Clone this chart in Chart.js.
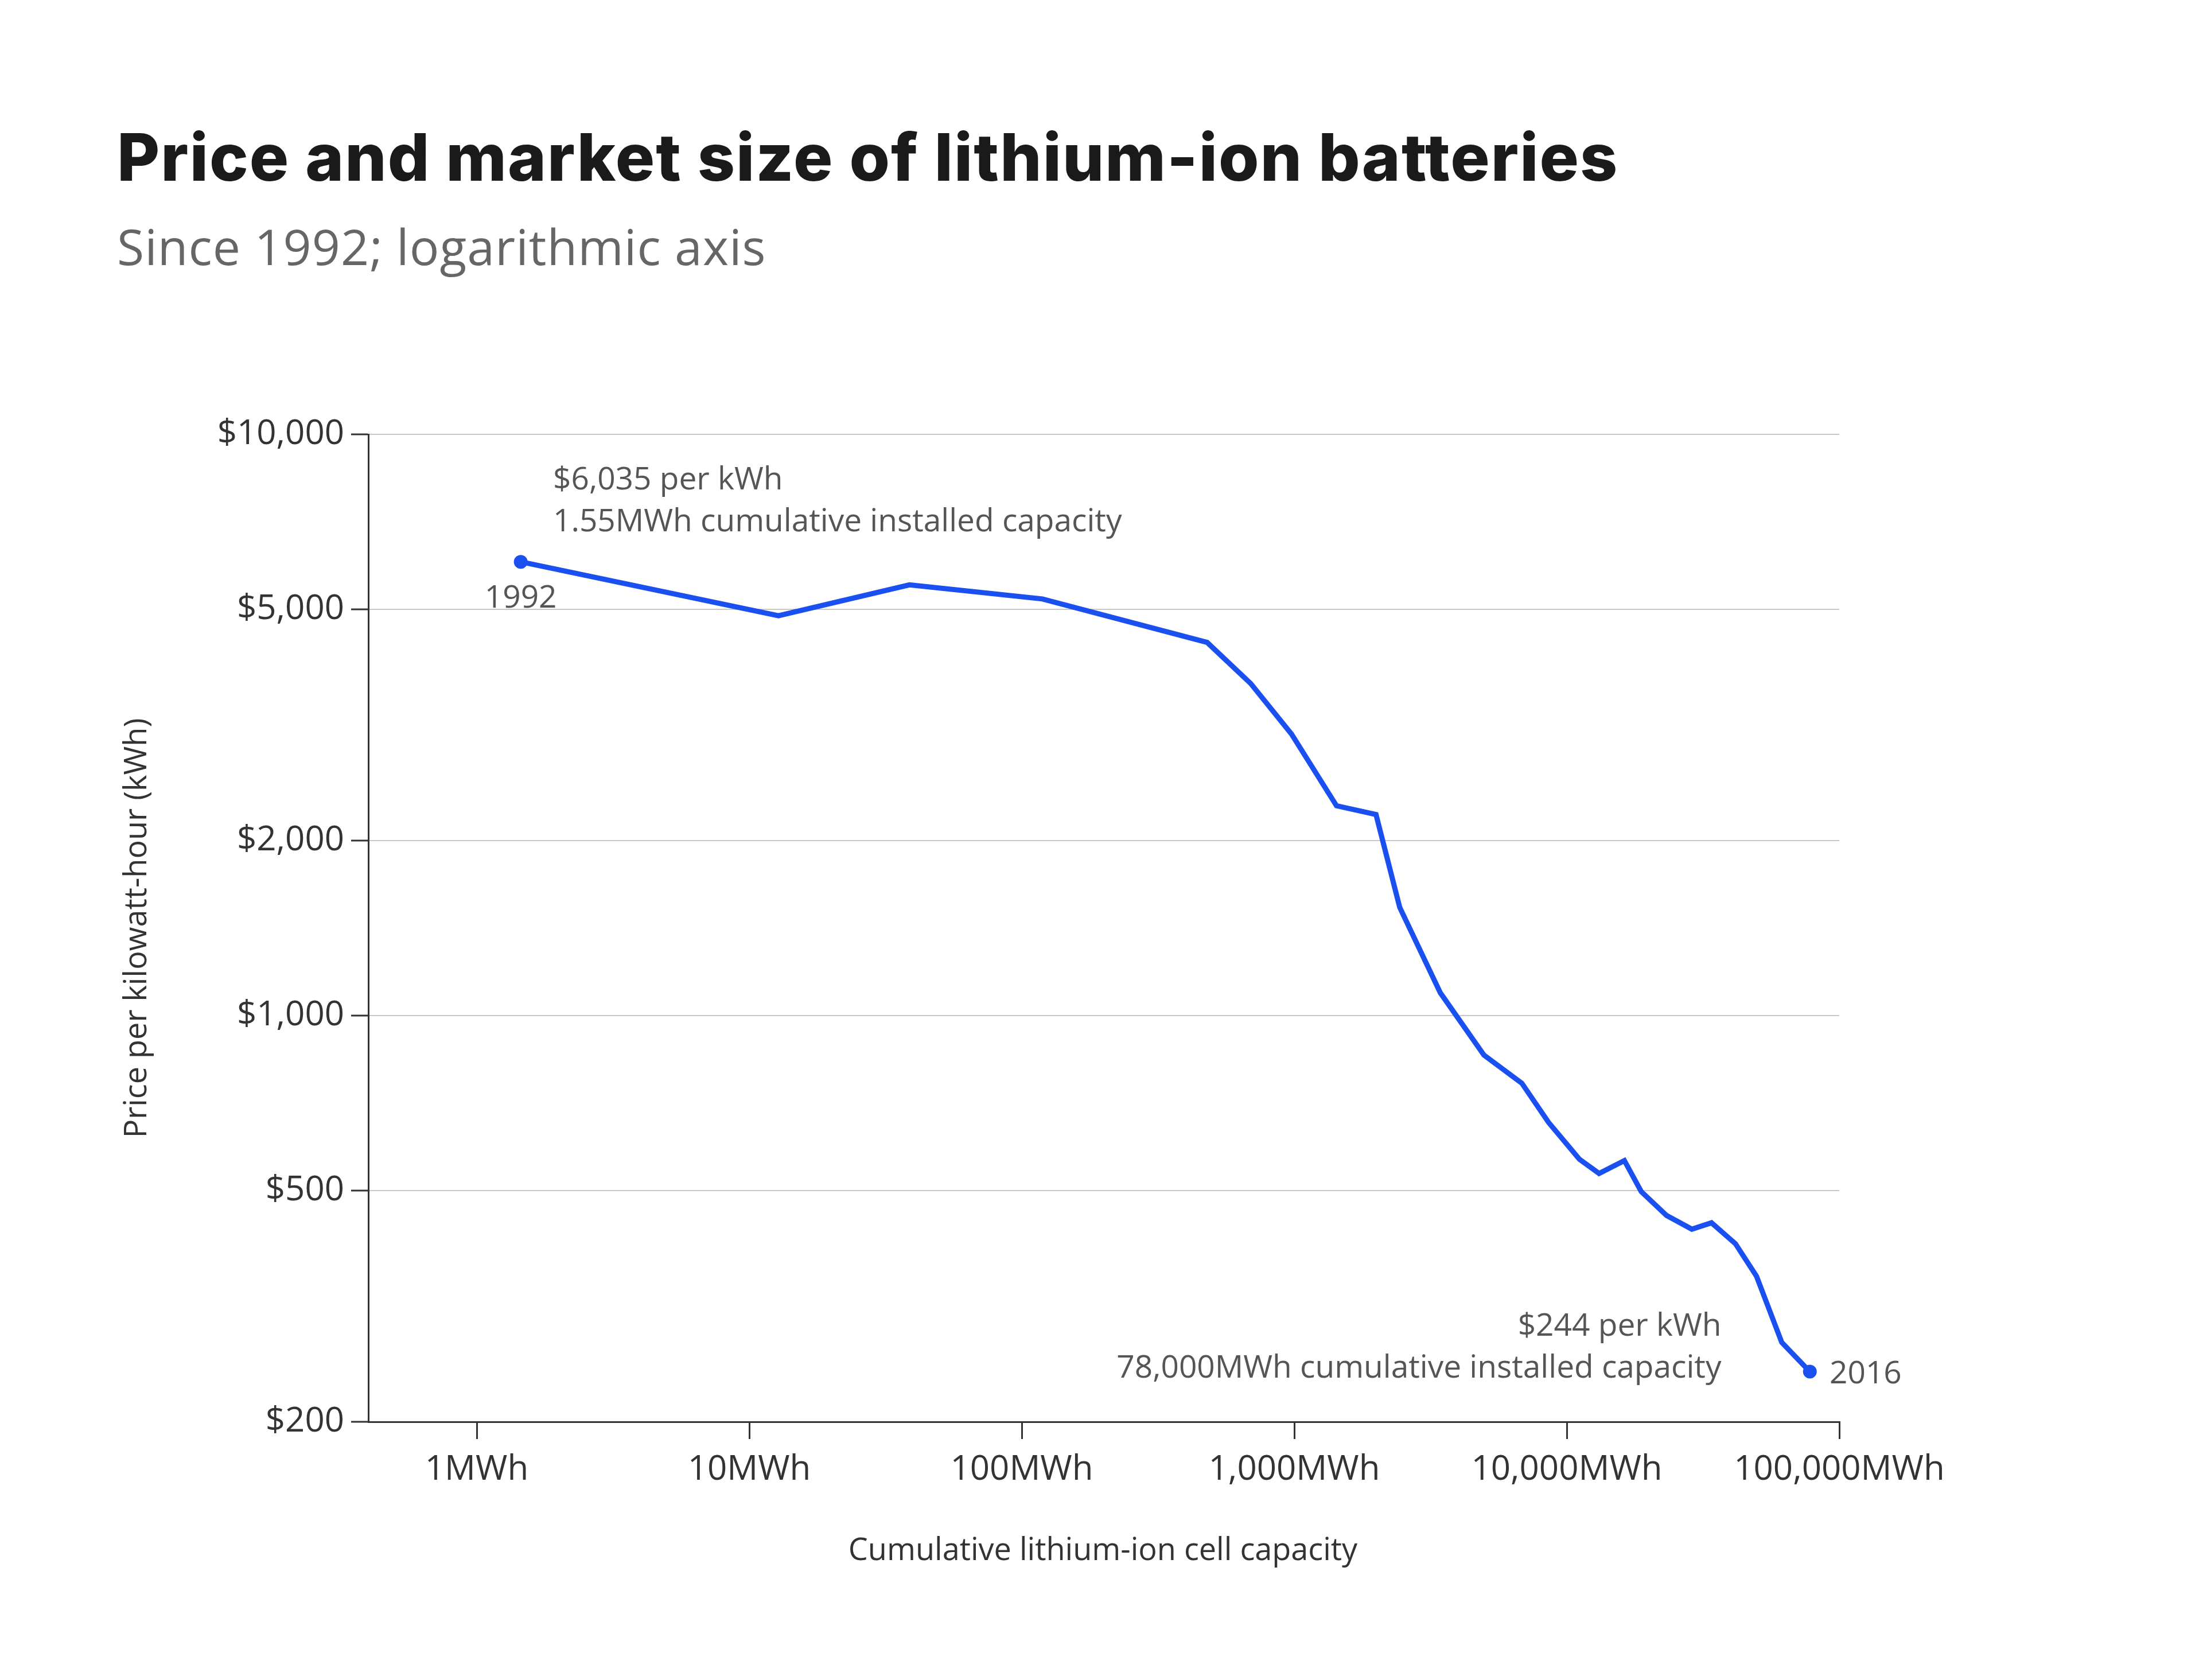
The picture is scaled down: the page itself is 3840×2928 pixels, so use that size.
<!DOCTYPE html>
<html><head><meta charset="utf-8">
<script src="https://cdn.jsdelivr.net/npm/chart.js@4"></script>
<style>
html,body{margin:0;padding:0;background:#fff;}
#wrap{position:relative;width:3840px;height:2928px;}
#title{position:absolute;left:204px;top:205px;font-family:Inter,sans-serif;font-weight:800;font-size:114px;color:#1a1a1a;letter-spacing:2px;}
#sub{position:absolute;left:204px;top:370px;font-family:'Open Sans',sans-serif;font-size:86px;color:#666;letter-spacing:1px;}
canvas{position:absolute;left:0;top:0;}
</style></head><body>
<div id="wrap">
<canvas id="c" width="3840" height="2928"></canvas>
<div id="title">Price and market size of lithium-ion batteries</div>
<div id="sub">Since 1992; logarithmic axis</div>
</div>
<script>
const capacityMWh = [1.45,12.8,38.7,119,479,692,977,1429,1995,2438,3436,4966,6839,8570,11130,13140,16270,18760,23220,28770,33970,41590,49700,61500,78000];
const pricePerKWh = [6035,4875,5508,5210,4385,3727,3050,2296,2218,1535,1094,855,765,655,566,535,563,498,453,429,440,405,356,274,244];
const xTicks = [1,10,100,1000,10000,100000];
const xTickLabels = ["1MWh","10MWh","100MWh","1,000MWh","10,000MWh","100,000MWh"];
const yTicks = [200,500,1000,2000,5000,10000];
const yTickLabels = ["$200","$500","$1,000","$2,000","$5,000","$10,000"];
const S = 2.449;
const FONT = "'Open Sans', sans-serif";
const annot = {
  id:'annot',
  afterDatasetsDraw(ch){
    const c=ch.ctx, xs=ch.scales.x, ys=ch.scales.y, a=ch.chartArea;
    const n=capacityMWh.length-1;
    const x0=xs.getPixelForValue(capacityMWh[0]), y0=ys.getPixelForValue(pricePerKWh[0]);
    const x1=xs.getPixelForValue(capacityMWh[n]), y1=ys.getPixelForValue(pricePerKWh[n]);
    c.save();
    c.font="55px "+FONT; c.fillStyle="#555"; c.textBaseline="middle";
    c.textAlign="left";
    c.fillText("$6,035 per kWh", x0+23*S, y0-58*S);
    c.fillText("1.55MWh cumulative installed capacity", x0+23*S, y0-28*S);
    c.textAlign="center"; c.fillText("1992", x0, y0+26*S);
    c.textAlign="right";
    c.fillText("$244 per kWh", x1-63*S, y1-32*S);
    c.fillText("78,000MWh cumulative installed capacity", x1-63*S, y1-2*S);
    c.textAlign="left"; c.fillText("2016", x1+14*S, y1+2*S);
    c.fillStyle="#333"; c.font="54px "+FONT; c.textAlign="center";
    c.fillText("Cumulative lithium-ion cell capacity", 785*S, 1104*S);
    c.translate(98*S,(a.top+a.bottom)/2); c.rotate(-Math.PI/2);
    c.fillText("Price per kilowatt-hour (kWh)",0,0);
    c.restore();
  }
};
new Chart(document.getElementById('c'),{
  type:'line',
  data:{datasets:[{
    data:capacityMWh.map((x,i)=>({x:x,y:pricePerKWh[i]})),
    borderColor:'#1a4ff0',borderWidth:9,tension:0,
    pointRadius:capacityMWh.map((_,i)=>(i===0||i===capacityMWh.length-1)?12:0),
    pointBackgroundColor:'#1a4ff0',pointBorderWidth:0
  }]},
  options:{
    responsive:false,animation:false,devicePixelRatio:1,
    layout:{padding:{left:0,right:634,top:757,bottom:0}},
    plugins:{legend:{display:false},tooltip:{enabled:false}},
    scales:{
      x:{type:'logarithmic',min:0.4,max:100000,
        afterBuildTicks(s){s.ticks=xTicks.map(v=>({value:v}));},
        afterFit(s){s.height=450;},
        ticks:{callback:(v)=>xTickLabels[xTicks.indexOf(v)],font:{family:FONT,size:60},color:'#333',padding:18,maxRotation:0,autoSkip:false},
        grid:{drawOnChartArea:false,drawTicks:true,tickLength:30,color:'#333',lineWidth:3},
        border:{display:true,color:'#333',width:3}},
      y:{type:'logarithmic',min:200,max:10000,
        afterBuildTicks(s){s.ticks=yTicks.map(v=>({value:v}));},
        afterFit(s){s.width=642;},
        ticks:{callback:(v)=>yTickLabels[yTicks.indexOf(v)],font:{family:FONT,size:60},color:'#333',padding:12,autoSkip:false},
        grid:{color:'#c8c8c8',lineWidth:2,drawTicks:true,tickLength:30,tickColor:'#333',tickWidth:3},
        border:{display:true,color:'#333',width:3}}
    }
  },
  plugins:[annot]
});
</script>
</body></html>
